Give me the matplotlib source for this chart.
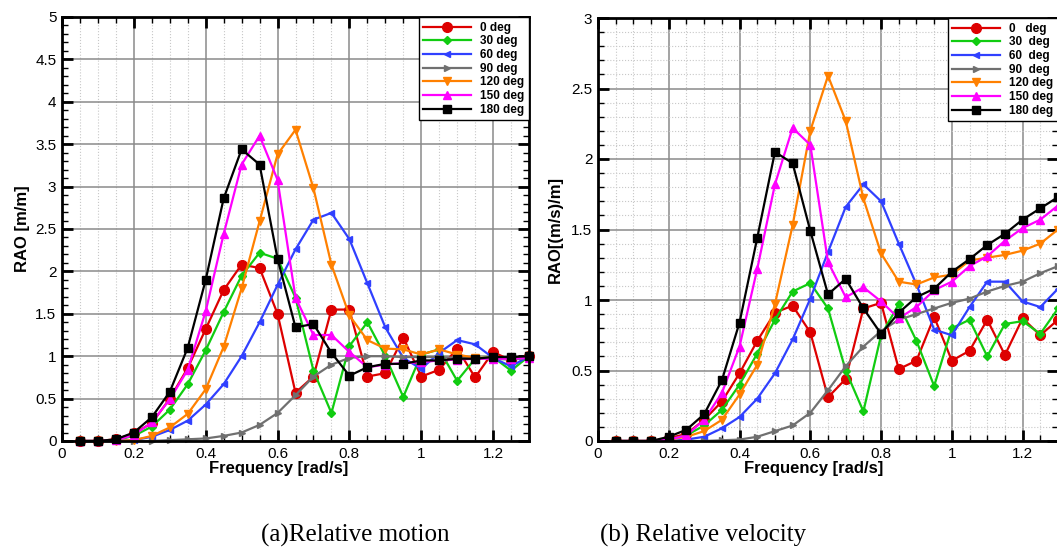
import numpy as np
import matplotlib
matplotlib.use("Agg")
import matplotlib.pyplot as plt
from matplotlib.ticker import MultipleLocator, FormatStrFormatter

freq = [0.05, 0.10, 0.15, 0.20, 0.25, 0.30, 0.35, 0.40, 0.45, 0.50, 0.55, 0.60, 0.65,
        0.70, 0.75, 0.80, 0.85, 0.90, 0.95, 1.00, 1.05, 1.10, 1.15, 1.20, 1.25, 1.30]

labels_a = ["0 deg", "30 deg", "60 deg", "90 deg", "120 deg", "150 deg", "180 deg"]
labels_b = ["0   deg", "30  deg", "60  deg", "90  deg", "120 deg", "150 deg", "180 deg"]

# (a) Relative motion RAO [m/m]
motion_0 = [0.0, 0.0, 0.02, 0.09, 0.21, 0.50, 0.86, 1.32, 1.78, 2.08, 2.04, 1.50, 0.57,
            0.76, 1.55, 1.55, 0.76, 0.80, 1.22, 0.76, 0.84, 1.09, 0.75, 1.05, 0.95, 1.0]
motion_30 = [0.0, 0.0, 0.01, 0.06, 0.17, 0.37, 0.67, 1.07, 1.52, 1.95, 2.22, 2.15, 1.69,
             0.83, 0.33, 1.12, 1.40, 1.00, 0.52, 1.02, 1.08, 0.71, 0.97, 0.99, 0.83, 1.0]
motion_60 = [0.0, 0.0, 0.0, 0.01, 0.05, 0.13, 0.24, 0.43, 0.67, 1.00, 1.40, 1.84, 2.26,
             2.61, 2.69, 2.38, 1.86, 1.34, 0.98, 0.85, 1.04, 1.19, 1.14, 0.98, 0.88, 1.0]
motion_90 = [0.0, 0.0, 0.0, 0.0, 0.0, 0.01, 0.02, 0.03, 0.06, 0.10, 0.19, 0.33, 0.54,
             0.76, 0.90, 0.98, 1.00, 1.00, 0.99, 0.99, 0.99, 0.98, 0.98, 0.97, 0.96, 0.98]
motion_120 = [0.0, 0.0, 0.0, 0.01, 0.06, 0.16, 0.32, 0.61, 1.11, 1.80, 2.59, 3.38, 3.67,
              2.98, 2.08, 1.48, 1.19, 1.09, 1.08, 1.02, 1.08, 1.02, 0.98, 0.98, 0.97, 1.0]
motion_150 = [0.0, 0.0, 0.01, 0.07, 0.22, 0.49, 0.84, 1.53, 2.44, 3.26, 3.60, 3.08, 1.69,
              1.25, 1.25, 1.05, 0.87, 0.90, 0.92, 0.93, 0.95, 0.96, 0.97, 0.97, 0.97, 0.98]
motion_180 = [0.0, 0.0, 0.02, 0.10, 0.28, 0.58, 1.10, 1.90, 2.86, 3.44, 3.26, 2.15, 1.34,
              1.38, 1.04, 0.77, 0.87, 0.91, 0.91, 0.95, 0.95, 0.97, 0.97, 0.99, 0.99, 1.0]

# (b) Relative velocity RAO [(m/s)/m]
vel_0 = [0.0, 0.0, 0.0, 0.02, 0.05, 0.15, 0.28, 0.48, 0.71, 0.91, 0.96, 0.77, 0.31,
         0.44, 0.94, 0.98, 0.51, 0.57, 0.88, 0.57, 0.64, 0.86, 0.61, 0.87, 0.75, 0.86]
vel_30 = [0.0, 0.0, 0.0, 0.01, 0.04, 0.11, 0.22, 0.40, 0.62, 0.86, 1.06, 1.12, 0.94,
          0.50, 0.21, 0.75, 0.97, 0.71, 0.39, 0.80, 0.86, 0.60, 0.83, 0.85, 0.76, 0.94]
vel_60 = [0.0, 0.0, 0.0, 0.0, 0.01, 0.03, 0.09, 0.17, 0.30, 0.48, 0.72, 1.01, 1.34,
          1.66, 1.82, 1.70, 1.40, 1.11, 0.79, 0.75, 0.95, 1.13, 1.13, 0.99, 0.95, 1.08]
vel_90 = [0.0, 0.0, 0.0, 0.0, 0.0, 0.0, 0.005, 0.01, 0.03, 0.07, 0.11, 0.20, 0.36,
          0.53, 0.67, 0.78, 0.86, 0.90, 0.94, 0.98, 1.01, 1.06, 1.10, 1.13, 1.19, 1.24]
vel_120 = [0.0, 0.0, 0.0, 0.01, 0.03, 0.07, 0.15, 0.33, 0.54, 0.97, 1.53, 2.20, 2.59,
           2.27, 1.72, 1.33, 1.13, 1.11, 1.16, 1.18, 1.28, 1.30, 1.32, 1.35, 1.40, 1.50]
vel_150 = [0.0, 0.0, 0.0, 0.01, 0.04, 0.15, 0.34, 0.67, 1.22, 1.82, 2.22, 2.10, 1.27,
           1.02, 1.09, 0.99, 0.87, 0.95, 1.07, 1.13, 1.24, 1.31, 1.42, 1.51, 1.57, 1.67]
vel_180 = [0.0, 0.0, 0.0, 0.03, 0.08, 0.19, 0.43, 0.84, 1.44, 2.05, 1.97, 1.49, 1.04,
           1.15, 0.94, 0.76, 0.91, 1.02, 1.08, 1.20, 1.29, 1.39, 1.47, 1.57, 1.65, 1.73]

colors = ["#dd0000", "#11cc11", "#3040ff", "#707070", "#ff8000", "#ff00ff", "#000000"]
markers = ["o", "D", "<", ">", "v", "^", "s"]
msizes = [7, 4.5, 5, 5, 5.5, 5.5, 6]

plt.rcParams['font.family'] = ['Liberation Sans', 'DejaVu Sans']

fig = plt.figure(figsize=(10.57, 5.5), dpi=100)
W, H = 1057.0, 550.0
axL = fig.add_axes([62 / W, (H - 441) / H, 467 / W, 424 / H])
axR = fig.add_axes([598 / W, (H - 441) / H, 460 / W, 423 / H])


def style(ax, ymax, ymajor, yminor, hminor):
    ax.set_xlim(0, 1.3)
    ax.set_ylim(0, ymax)
    ax.xaxis.set_major_locator(MultipleLocator(0.2))
    ax.xaxis.set_minor_locator(MultipleLocator(0.05))
    ax.yaxis.set_major_locator(MultipleLocator(ymajor))
    ax.yaxis.set_minor_locator(MultipleLocator(yminor))
    ax.yaxis.set_major_formatter(FormatStrFormatter('%g'))
    ax.set_xticks(np.arange(0, 1.21, 0.2))
    ax.set_xticklabels(["0", "0.2", "0.4", "0.6", "0.8", "1", "1.2"])
    ax.grid(which='major', color='#8a8a8a', linewidth=1.1, linestyle='-', zorder=0)
    ax.grid(which='minor', axis='x', color='#c8c8c8', linewidth=0.8, linestyle=':', zorder=0)
    if hminor:
        ax.grid(which='minor', axis='y', color='#c8c8c8', linewidth=0.8, linestyle=':', zorder=0)
    ax.set_axisbelow(True)
    ax.tick_params(which='major', direction='in', length=8, width=2, labelsize=11,
                   top=True, right=True, pad=4)
    ax.tick_params(which='minor', direction='in', length=4, width=1, top=True, right=True)
    for s in ax.spines.values():
        s.set_linewidth(2)
    ax.set_xlabel("Frequency [rad/s]", fontsize=12, fontweight='bold')


seriesA = [motion_0, motion_30, motion_60, motion_90, motion_120, motion_150, motion_180]
seriesB = [vel_0, vel_30, vel_60, vel_90, vel_120, vel_150, vel_180]

for ax, series, labels in [(axL, seriesA, labels_a), (axR, seriesB, labels_b)]:
    for y, c, m, ms, lab in zip(series, colors, markers, msizes, labels):
        ax.plot(freq, y, color=c, marker=m, markersize=ms, linewidth=1.6,
                markeredgecolor=c, label=lab, clip_on=False if ax is axL else True)
    leg = ax.legend(loc='upper right', borderaxespad=0.0,
                    prop={'weight': 'bold', 'size': 8.5}, handlelength=4.0,
                    labelspacing=0.14, handletextpad=0.8, borderpad=0.4,
                    fancybox=False, framealpha=1.0, edgecolor='black')
    leg.get_frame().set_linewidth(1.0)

style(axL, 5, 0.5, 0.1, False)
style(axR, 3, 0.5, 0.1, True)
axL.set_ylabel("RAO [m/m]", fontsize=12, fontweight='bold')
axR.set_ylabel("RAO[(m/s)/m]", fontsize=12, fontweight='bold')
axL.xaxis.set_label_coords((279 - 62) / 467, (441 - 461) / 424)
axR.xaxis.set_label_coords((814 - 598) / 460, (441 - 461) / 423)
axL.yaxis.set_label_coords((30 - 62) / 467, 0.5)
axR.yaxis.set_label_coords((563 - 598) / 460, 0.5)

fig.text(355 / W, 1 - 535 / H, "(a)Relative motion", family='Liberation Serif',
         fontsize=18, ha='center', va='center')
fig.text(703 / W, 1 - 535 / H, "(b) Relative velocity", family='Liberation Serif',
         fontsize=18, ha='center', va='center')

fig.savefig("out.png", dpi=100)
